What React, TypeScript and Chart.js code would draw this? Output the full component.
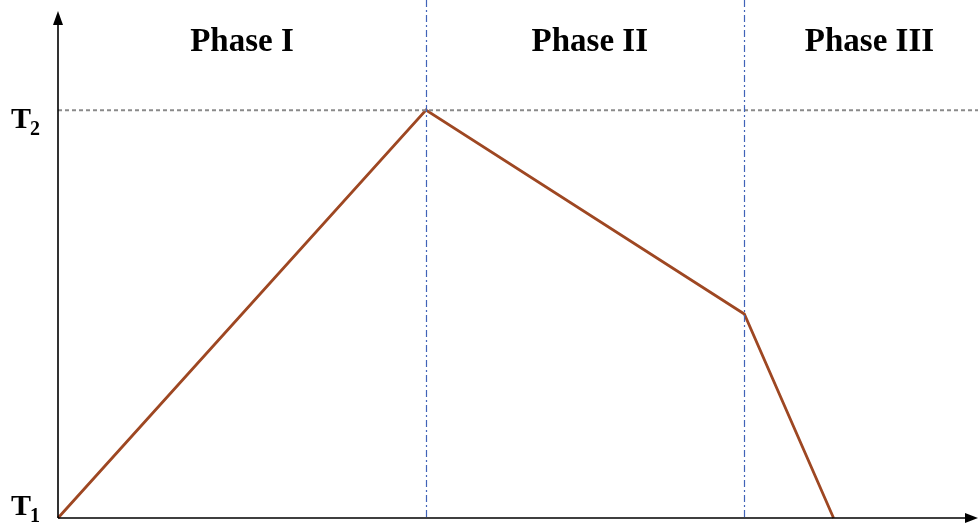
import React, { useEffect, useRef } from "react";
import { Chart, registerables } from "chart.js";

Chart.register(...registerables);

// Data (x in time units, y normalised: T1 = 0, T2 = 1)
const timePoints = [0, 40, 74.6, 84.3];
const temperatures = [0, 1, 0.5, 0];
const phaseBoundaries = [40, 74.6];
const phaseNames = ["Phase I", "Phase II", "Phase III"];
const phaseLabelX = [20, 57.8, 88.2];
const tickValues = [0, 1];
const tickMain = ["T", "T"];
const tickSub = ["1", "2"];

const SERIF = "'Liberation Serif', 'Times New Roman', serif";

const overlay = {
  id: "overlay",
  afterDatasetsDraw(chart: any) {
    const { ctx, chartArea, scales } = chart;
    const xs = scales.x;
    const ys = scales.y;
    const left = chartArea.left;
    const bottom = chartArea.bottom;
    ctx.save();

    // dashed T2 line
    ctx.strokeStyle = "#8a8a8a";
    ctx.lineWidth = 2;
    ctx.setLineDash([4, 3]);
    const yT2 = ys.getPixelForValue(tickValues[1]);
    ctx.beginPath();
    ctx.moveTo(left, yT2);
    ctx.lineTo(chart.width, yT2);
    ctx.stroke();

    // phase boundaries (dash-dot)
    ctx.strokeStyle = "#4163b8";
    ctx.lineWidth = 1.2;
    ctx.setLineDash([7, 3, 2, 3]);
    phaseBoundaries.forEach((b) => {
      const px = Math.round(xs.getPixelForValue(b)) + 0.5;
      ctx.beginPath();
      ctx.moveTo(px, 0);
      ctx.lineTo(px, bottom);
      ctx.stroke();
    });
    ctx.setLineDash([]);

    // axes
    ctx.strokeStyle = "#000";
    ctx.fillStyle = "#000";
    ctx.lineWidth = 1.6;
    ctx.beginPath();
    ctx.moveTo(left, bottom);
    ctx.lineTo(left, 20);
    ctx.moveTo(left, bottom);
    ctx.lineTo(chart.width - 8, bottom);
    ctx.stroke();
    // arrow heads
    ctx.beginPath();
    ctx.moveTo(left, 11);
    ctx.lineTo(left - 5, 25);
    ctx.lineTo(left + 5, 25);
    ctx.closePath();
    ctx.fill();
    ctx.beginPath();
    ctx.moveTo(chart.width, bottom);
    ctx.lineTo(chart.width - 13, bottom - 5);
    ctx.lineTo(chart.width - 13, bottom + 5);
    ctx.closePath();
    ctx.fill();

    // phase labels
    ctx.font = `bold 33px ${SERIF}`;
    ctx.textAlign = "center";
    ctx.textBaseline = "alphabetic";
    phaseNames.forEach((n, i) => {
      ctx.fillText(n, xs.getPixelForValue(phaseLabelX[i]), 51);
    });

    // T labels
    ctx.textAlign = "left";
    tickValues.forEach((v, i) => {
      const py = ys.getPixelForValue(v);
      const base = i === 0 ? py - 3 : py + 18;
      ctx.font = `bold 30px ${SERIF}`;
      ctx.fillText(tickMain[i], 11, base);
      const w = ctx.measureText(tickMain[i]).width;
      ctx.font = `bold 20px ${SERIF}`;
      ctx.fillText(tickSub[i], 11 + w - 1, base + 7);
    });

    ctx.restore();
  },
};

export default function App() {
  const ref = useRef<HTMLCanvasElement | null>(null);
  useEffect(() => {
    if (!ref.current) return;
    const chart = new Chart(ref.current, {
      type: "line",
      data: {
        datasets: [
          {
            data: timePoints.map((x, i) => ({ x, y: temperatures[i] })),
            borderColor: "#9e4722",
            borderWidth: 2.8,
            pointRadius: 0,
            tension: 0,
            clip: false as any,
          },
        ],
      },
      options: {
        animation: false,
        responsive: true,
        maintainAspectRatio: false,
        layout: { padding: { left: 58, right: 0, top: 0, bottom: 9 } },
        plugins: { legend: { display: false }, tooltip: { enabled: false } },
        scales: {
          x: { type: "linear", min: 0, max: 100, display: false },
          y: { type: "linear", min: 0, max: 1.27, display: false },
        },
      },
      plugins: [overlay],
    });
    return () => chart.destroy();
  }, []);
  return (
    <div style={{ position: "fixed", left: 0, top: 0, width: 978, height: 527, background: "#fff" }}>
      <canvas ref={ref} />
    </div>
  );
}
